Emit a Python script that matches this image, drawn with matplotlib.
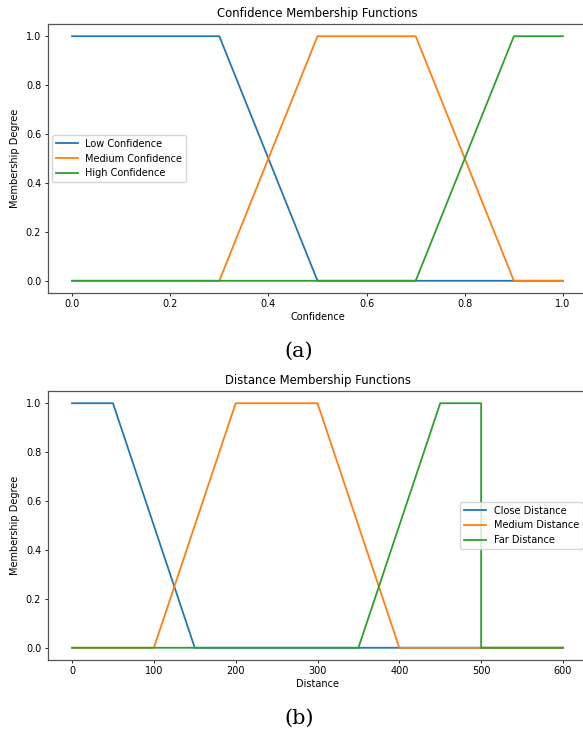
import numpy as np
import matplotlib
matplotlib.use("Agg")
import matplotlib.pyplot as plt

# confidence membership breakpoints
conf_low_x = [0.0, 0.3, 0.5, 1.0]
conf_low_y = [1.0, 1.0, 0.0, 0.0]
conf_med_x = [0.0, 0.3, 0.5, 0.7, 0.9, 1.0]
conf_med_y = [0.0, 0.0, 1.0, 1.0, 0.0, 0.0]
conf_high_x = [0.0, 0.7, 0.9, 1.0]
conf_high_y = [0.0, 0.0, 1.0, 1.0]

# distance membership breakpoints
dist_close_x = [0, 50, 150, 600]
dist_close_y = [1.0, 1.0, 0.0, 0.0]
dist_med_x = [0, 100, 200, 300, 400, 600]
dist_med_y = [0.0, 0.0, 1.0, 1.0, 0.0, 0.0]
dist_far_x = [0, 350, 450, 500, 500, 600]
dist_far_y = [0.0, 0.0, 1.0, 1.0, 0.0, 0.0]

conf_ticks = [0.0, 0.2, 0.4, 0.6, 0.8, 1.0]
dist_ticks = [0, 100, 200, 300, 400, 500, 600]
deg_ticks = [0.0, 0.2, 0.4, 0.6, 0.8, 1.0]

W, H = 583, 731
fig = plt.figure(figsize=(W / 100, H / 100), dpi=100)

fs = 7
lw = 1.3

ax1 = fig.add_axes([47.5 / W, (H - 293) / H, 540 / W, 269 / H])
ax1.plot(conf_low_x, conf_low_y, lw=lw, label='Low Confidence')
ax1.plot(conf_med_x, conf_med_y, lw=lw, label='Medium Confidence')
ax1.plot(conf_high_x, conf_high_y, lw=lw, label='High Confidence')
ax1.set_xticks(conf_ticks)
ax1.set_yticks(deg_ticks)
ax1.set_title('Confidence Membership Functions', fontsize=8.4, pad=5)
ax1.set_xlabel('Confidence', fontsize=fs, labelpad=2)
ax1.set_ylabel('Membership Degree', fontsize=fs, labelpad=4)
ax1.legend(loc='center left', fontsize=fs, handlelength=2.2)

ax2 = fig.add_axes([47.5 / W, (H - 660) / H, 540 / W, 269 / H])
ax2.plot(dist_close_x, dist_close_y, lw=lw, label='Close Distance')
ax2.plot(dist_med_x, dist_med_y, lw=lw, label='Medium Distance')
ax2.plot(dist_far_x, dist_far_y, lw=lw, label='Far Distance')
ax2.set_xticks(dist_ticks)
ax2.set_yticks(deg_ticks)
ax2.set_title('Distance Membership Functions', fontsize=8.4, pad=5)
ax2.set_xlabel('Distance', fontsize=fs, labelpad=2)
ax2.set_ylabel('Membership Degree', fontsize=fs, labelpad=4)
ax2.legend(loc='center right', fontsize=fs, handlelength=2.2)

for ax in (ax1, ax2):
    ax.tick_params(labelsize=fs, length=2.5, width=0.6, pad=2)
    for s in ax.spines.values():
        s.set_linewidth(0.9)
        s.set_color('#555555')
    ax.spines['right'].set_visible(False)

fig.text(299 / W, 1 - 351 / H, '(a)', ha='center', va='center',
         fontsize=15, family='DejaVu Serif')
fig.text(299 / W, 1 - 718 / H, '(b)', ha='center', va='center',
         fontsize=15, family='DejaVu Serif')

fig.savefig('out.png', dpi=100)
